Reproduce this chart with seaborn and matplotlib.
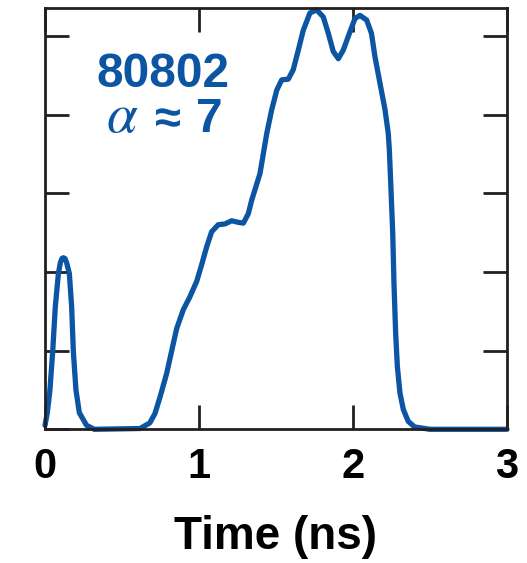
import matplotlib
matplotlib.use("Agg")
import matplotlib.pyplot as plt
import seaborn as sns
import pandas as pd

# Data (time in ns, signal in arbitrary units)
time_ns = [0.000, 0.015, 0.032, 0.050, 0.067, 0.087, 0.100, 0.110, 0.119,
           0.130, 0.140, 0.158, 0.173, 0.184, 0.201, 0.223, 0.270, 0.320,
           0.617, 0.680, 0.714, 0.747, 0.790, 0.823, 0.855, 0.898, 0.940,
           0.985, 1.017, 1.050, 1.082, 1.125, 1.169, 1.212, 1.255, 1.288,
           1.320, 1.342, 1.396, 1.440, 1.472, 1.505, 1.537, 1.580, 1.612,
           1.645, 1.677, 1.720, 1.764, 1.807, 1.840, 1.872, 1.905, 1.937,
           1.980, 2.013, 2.045, 2.089, 2.120, 2.143, 2.175, 2.208, 2.229,
           2.236, 2.245, 2.258, 2.266, 2.277, 2.288, 2.305, 2.327, 2.359,
           2.400, 2.500, 3.000]
signal = [0.05, 0.21, 0.50, 0.99, 1.56, 1.98, 2.12, 2.17, 2.18,
          2.17, 2.12, 1.98, 1.56, 0.99, 0.50, 0.21, 0.05, 0.00,
          0.01, 0.08, 0.20, 0.41, 0.71, 1.00, 1.28, 1.52, 1.68,
          1.88, 2.09, 2.32, 2.51, 2.60, 2.61, 2.65, 2.63, 2.62,
          2.74, 2.91, 3.25, 3.76, 4.06, 4.31, 4.44, 4.45, 4.57,
          4.82, 5.07, 5.29, 5.33, 5.24, 5.03, 4.80, 4.71, 4.82,
          5.05, 5.22, 5.26, 5.20, 5.03, 4.73, 4.40, 4.06, 3.76,
          3.55, 3.13, 2.49, 1.86, 1.22, 0.80, 0.46, 0.25, 0.10,
          0.03, 0.00, 0.00]
x_ticks = [0, 1, 2, 3]
y_ticks = [0, 1, 2, 3, 4, 5]
shot_label = "80802"
alpha_symbol = r"$\alpha$"
approx_symbol = "≈"
alpha_value = "7"
x_label = "Time (ns)"

df = pd.DataFrame({"t": time_ns, "s": signal})

sns.set_style("white")
plt.rcParams["font.family"] = ["Liberation Sans", "DejaVu Sans"]
plt.rcParams["mathtext.fontset"] = "stix"

line_color = "#0b55a3"
axis_color = "#231f20"

fig = plt.figure(figsize=(5.27, 5.63), dpi=100)
ax = fig.add_axes([45 / 527, 1 - 429.3 / 563, 462 / 527, 421 / 563])

sns.lineplot(data=df, x="t", y="s", ax=ax, color=line_color, linewidth=3.8,
             clip_on=False, solid_joinstyle="round", solid_capstyle="round")

ax.set_xlim(0, 3)
ax.set_ylim(0, 5.35)
ax.set_xticks(x_ticks)
ax.set_xticklabels([str(v) for v in x_ticks])
ax.set_yticks(y_ticks)
ax.set_yticklabels([])
ax.tick_params(axis="both", direction="in", length=17, width=2,
               color=axis_color, top=True, right=True, left=True, bottom=True)
ax.tick_params(axis="x", labelsize=30, pad=13, labelcolor="black")
for lab in ax.get_xticklabels():
    lab.set_fontweight("bold")
ax.set_ylabel("")
ax.set_xlabel(x_label, fontsize=33, fontweight="bold", labelpad=20,
              color="black")
for sp in ax.spines.values():
    sp.set_visible(True)
    sp.set_color(axis_color)
    sp.set_linewidth(2)

ax.text(0.255, 0.813, shot_label, transform=ax.transAxes, ha="center",
        va="baseline", fontsize=34.5, fontweight="bold", color=line_color)
ax.text(0.1667, 0.706, alpha_symbol, transform=ax.transAxes, ha="center",
        va="baseline", fontsize=40, color=line_color)
ax.text(0.267, 0.732, approx_symbol, transform=ax.transAxes, ha="center",
        va="center", fontsize=34, fontweight="bold", color=line_color)
ax.text(0.356, 0.706, alpha_value, transform=ax.transAxes, ha="center",
        va="baseline", fontsize=34.5, fontweight="bold", color=line_color)

fig.savefig("out.png", dpi=100)
